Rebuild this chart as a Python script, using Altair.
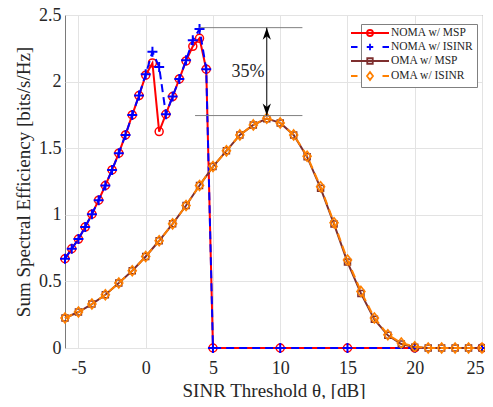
import altair as alt
import pandas as pd

# ---------------- data ----------------
x_noma = [-6, -5.5, -5, -4.5, -4, -3.5, -3, -2.5, -2, -1.5, -1, -0.5, 0, 0.5, 1, 1.5,
          2, 2.5, 3, 3.5, 4, 4.5, 5, 10, 15, 20, 25]
noma_msp = [0.67, 0.745, 0.818, 0.908, 1.005, 1.11, 1.22, 1.337, 1.463, 1.60, 1.75, 1.895,
            2.048, 2.14, 1.625, 1.755, 1.888, 2.02, 2.155, 2.265, 2.325, 2.093, 0, 0, 0, 0, 0]
noma_isinr = [0.67, 0.745, 0.818, 0.908, 1.005, 1.11, 1.22, 1.337, 1.463, 1.60, 1.75, 1.895,
              2.055, 2.225, 2.11, 1.755, 1.888, 2.02, 2.16, 2.31, 2.395, 2.093, 0, 0, 0, 0, 0]
x_oma = [-6, -5, -4, -3, -2, -1, 0, 1, 2, 3, 4, 5, 6, 7, 8, 9, 10, 11, 12, 13, 14, 15,
         16, 17, 18, 19, 20, 21, 22, 23, 24, 25]
oma_msp = [0.225, 0.27, 0.33, 0.40, 0.488, 0.58, 0.687, 0.805, 0.932, 1.07, 1.22, 1.362,
           1.48, 1.60, 1.675, 1.722, 1.69, 1.60, 1.435, 1.20, 0.93, 0.645, 0.41, 0.215,
           0.095, 0.03, 0.005, 0, 0, 0, 0, 0]
oma_isinr = [0.225, 0.27, 0.33, 0.40, 0.488, 0.58, 0.687, 0.805, 0.932, 1.07, 1.22, 1.362,
             1.48, 1.60, 1.675, 1.725, 1.69, 1.60, 1.44, 1.21, 0.94, 0.66, 0.425, 0.225,
             0.10, 0.037, 0.01, 0, 0, 0, 0, 0]

series = ["NOMA w/ MSP", "NOMA w/ ISINR", "OMA w/ MSP", "OMA w/ ISINR"]
colors = ["#ff0000", "#0000ff", "#7e2f2f", "#ff8000"]

x_ticks = [-5, 0, 5, 10, 15, 20, 25]
y_ticks = [0, 0.5, 1, 1.5, 2, 2.5]

# annotation (horizontal guide lines, arrow, label)
guide_x1 = [4.0, 3.67]
guide_x2 = [11.65, 11.65]
guide_y = [2.405, 1.745]
arrow_x = [9.0]
arrow_top = [2.405]
arrow_bot = [1.745]
label_x = [7.6]
label_y = [2.07]
label_text = ["35%"]

FONT = "Liberation Serif"

xs = alt.Scale(domain=[-6, 25], nice=False, zero=False)
ys = alt.Scale(domain=[0, 2.5], nice=False)
cscale = alt.Scale(domain=series, range=colors)

xaxis = alt.Axis(values=x_ticks, title="SINR Threshold θ, [dB]", labelExpr="'' + datum.value",
                 ticks=False, domain=False, labelFlush=True, labelFlushOffset=2,
                 labelPadding=11, titlePadding=4, labelFontSize=18, titleFontSize=19)
yaxis = alt.Axis(values=y_ticks, title="Sum Spectral Efficiency [bits/s/Hz]",
                 labelExpr="'' + datum.value", ticks=False, domain=False, labelFlush=False,
                 labelPadding=4, titlePadding=5, labelFontSize=18, titleFontSize=19)

leg_paths = {
    "NOMA w/ MSP": "M-3.8,0L3.8,0M-0.6,0A0.6,0.6 0 1 1 0.6,0A0.6,0.6 0 1 1 -0.6,0",
    "NOMA w/ ISINR": "M-3.8,0L-2.5,0M2.5,0L3.8,0M-0.65,0L0.65,0M0,-0.65L0,0.65",
    "OMA w/ MSP": "M-3.8,0L3.8,0M-0.55,-0.55L0.55,-0.55L0.55,0.55L-0.55,0.55Z",
    "OMA w/ ISINR": "M-3.8,0L-2.5,0M2.5,0L3.8,0M0,-0.8L0.6,0L0,0.8L-0.6,0Z",
}
expr = ("datum.value == 'NOMA w/ MSP' ? '%s' : datum.value == 'NOMA w/ ISINR' ? '%s' : "
        "datum.value == 'OMA w/ MSP' ? '%s' : '%s'") % (
    leg_paths["NOMA w/ MSP"], leg_paths["NOMA w/ ISINR"],
    leg_paths["OMA w/ MSP"], leg_paths["OMA w/ ISINR"])

legend = alt.Legend(title=None, orient="none", legendX=296, legendY=9,
                    symbolSize=100, symbolStrokeWidth=1.8,
                    symbolType=alt.ExprRef(expr), symbolFillColor="transparent",
                    labelFont=FONT, labelFontSize=11.5, labelColor="#262626",
                    labelOffset=15, rowPadding=0, padding=3,
                    strokeColor="#808080", fillColor="white", cornerRadius=0)

line_styles = [dict(), dict(strokeDash=[8, 5]), dict(), dict(strokeDash=[8, 5])]
point_styles = [
    dict(shape="circle", size=64, strokeWidth=1.5),
    dict(shape="M-1,0L1,0M0,-1L0,1", size=100, strokeWidth=2),
    dict(shape="square", size=36, strokeWidth=1.5),
    dict(shape="M0,-1.25L1,0L0,1.25L-1,0Z", size=64, strokeWidth=1.6),
]
xdata = [x_noma, x_noma, x_oma, x_oma]
ydata = [noma_msp, noma_isinr, oma_msp, oma_isinr]

layers = []
for i, name in enumerate(series):
    df = pd.DataFrame({"x": xdata[i], "y": ydata[i], "series": name})
    base = alt.Chart(df)
    line = base.mark_line(strokeWidth=2, **line_styles[i]).encode(
        x=alt.X("x:Q", scale=xs, axis=xaxis),
        y=alt.Y("y:Q", scale=ys, axis=yaxis),
        color=alt.Color("series:N", scale=cscale, legend=legend if i == 0 else None),
    )
    pts = base.mark_point(filled=False, opacity=1, **point_styles[i]).encode(
        x="x:Q", y="y:Q",
        color=alt.Color("series:N", scale=cscale, legend=None),
    )
    layers += [line, pts]

gdf = pd.DataFrame({"x1": guide_x1, "x2": guide_x2, "y": guide_y})
guides = alt.Chart(gdf).mark_rule(color="#808080", strokeWidth=1).encode(
    x="x1:Q", x2="x2:Q", y="y:Q")

adf = pd.DataFrame({"x": arrow_x, "y1": arrow_top, "y2": arrow_bot})
arrow = alt.Chart(adf).mark_rule(color="black", strokeWidth=1).encode(
    x="x:Q", y="y1:Q", y2="y2:Q")
head_up = alt.Chart(adf).mark_point(shape="M0,0L-0.55,1.6L0,1.15L0.55,1.6Z", size=225,
                                    filled=True, color="black", opacity=1).encode(
    x="x:Q", y="y1:Q")
head_dn = alt.Chart(adf).mark_point(shape="M0,0L-0.55,-1.6L0,-1.15L0.55,-1.6Z", size=225,
                                    filled=True, color="black", opacity=1).encode(
    x="x:Q", y="y2:Q")

tdf = pd.DataFrame({"x": label_x, "y": label_y, "t": label_text})
label = alt.Chart(tdf).mark_text(font=FONT, fontSize=18, color="#262626",
                                 align="center", baseline="middle").encode(
    x="x:Q", y="y:Q", text="t:N")

chart = alt.layer(*layers, guides, arrow, head_up, head_dn, label).properties(
    width=417, height=333,
    autosize=alt.AutoSizeParams(type="none"),
    padding={"left": 57, "top": 7, "right": 3, "bottom": 51},
).configure_view(stroke="#7a7a7a", strokeWidth=1).configure_axis(
    gridColor="#e3e3e3", labelColor="#262626", titleColor="#262626",
    labelFont=FONT, titleFont=FONT, titleFontWeight="normal",
)

chart.save("out.html", embed_options={"renderer": "svg", "actions": False})
